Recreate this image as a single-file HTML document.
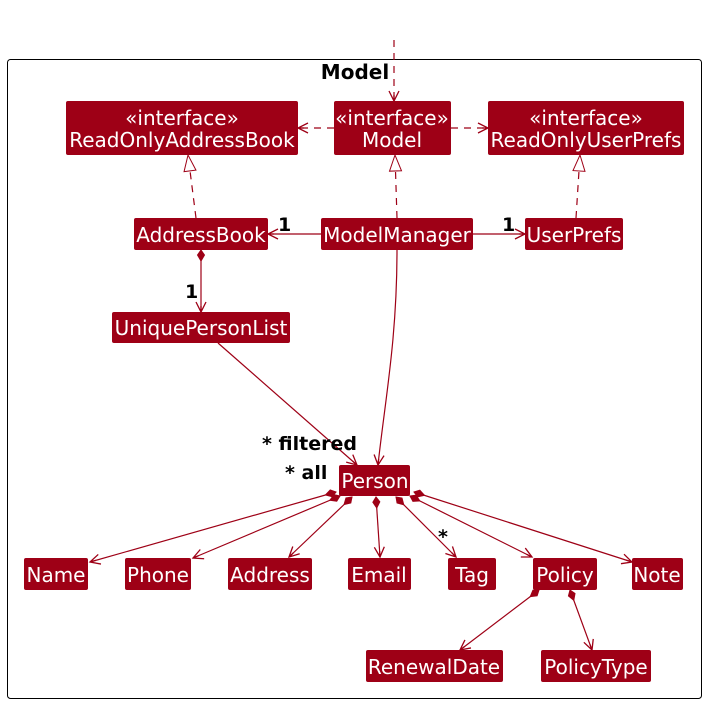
<!DOCTYPE html>
<html><head><meta charset="utf-8"><style>
html,body{margin:0;padding:0;background:#fff;}
svg{display:block;font-family:"DejaVu Sans","Liberation Sans",sans-serif;}
.b{fill:#9E0016;}
.t{fill:#fff;font-size:20px;text-anchor:middle;}
.l{stroke:#9E0016;stroke-width:1.2;fill:none;}
.d{stroke-dasharray:7,6;}
.lab{font-size:19px;font-weight:bold;fill:#000;}
</style></head><body>
<svg width="706" height="704" viewBox="0 0 706 704">
<defs>
<marker id="a" markerWidth="14" markerHeight="14" refX="11" refY="6" orient="auto" markerUnits="userSpaceOnUse">
<path d="M1,1 L11,6 L1,11 M11,6 L5,6" stroke="#9E0016" stroke-width="1.3" fill="none"/>
</marker>
<marker id="tri" markerWidth="20" markerHeight="20" refX="17" refY="7" orient="auto" markerUnits="userSpaceOnUse">
<path d="M1,1 L17,7 L1,13 Z" stroke="#9E0016" stroke-width="1" fill="#fff"/>
</marker>
<marker id="dia" markerWidth="16" markerHeight="10" refX="1" refY="5" orient="auto" markerUnits="userSpaceOnUse">
<path d="M1,5 L6,1.5 L12,5 L6,8.5 Z" fill="#9E0016" stroke="#9E0016"/>
</marker>
</defs>
<rect x="7.5" y="59.5" width="694" height="639" rx="3" fill="none" stroke="#000" stroke-width="1"/>
<text x="355" y="79" font-size="20" font-weight="bold" text-anchor="middle">Model</text>

<line class="l d" x1="394" y1="40" x2="394" y2="101" marker-end="url(#a)"/>
<line class="l d" x1="334" y1="128" x2="298" y2="128" marker-end="url(#a)"/>
<line class="l d" x1="451" y1="128" x2="488" y2="128" marker-end="url(#a)"/>
<line class="l d" x1="196" y1="218" x2="188" y2="155" marker-end="url(#tri)"/>
<line class="l d" x1="397" y1="218" x2="395" y2="155" marker-end="url(#tri)"/>
<line class="l d" x1="576" y1="218" x2="580" y2="155" marker-end="url(#tri)"/>
<line class="l" x1="321" y1="234" x2="268" y2="234" marker-end="url(#a)"/>
<line class="l" x1="473" y1="234" x2="525" y2="234" marker-end="url(#a)"/>
<line class="l" x1="201" y1="250" x2="201" y2="312" marker-start="url(#dia)" marker-end="url(#a)"/>
<line class="l" x1="218" y1="343" x2="357" y2="465" marker-end="url(#a)"/>
<path class="l" d="M397,250 C397,340 385,400 378,465" marker-end="url(#a)"/>
<line class="l" x1="336" y1="492" x2="90" y2="562" marker-start="url(#dia)" marker-end="url(#a)"/>
<line class="l" x1="340" y1="496" x2="193" y2="558" marker-start="url(#dia)" marker-end="url(#a)"/>
<line class="l" x1="352" y1="497" x2="289" y2="557" marker-start="url(#dia)" marker-end="url(#a)"/>
<line class="l" x1="376" y1="497" x2="380" y2="557" marker-start="url(#dia)" marker-end="url(#a)"/>
<line class="l" x1="396" y1="497" x2="456" y2="557" marker-start="url(#dia)" marker-end="url(#a)"/>
<line class="l" x1="410" y1="496" x2="532" y2="557" marker-start="url(#dia)" marker-end="url(#a)"/>
<line class="l" x1="414" y1="492" x2="632" y2="562" marker-start="url(#dia)" marker-end="url(#a)"/>
<line class="l" x1="539" y1="590" x2="460" y2="650" marker-start="url(#dia)" marker-end="url(#a)"/>
<line class="l" x1="570" y1="590" x2="592" y2="650" marker-start="url(#dia)" marker-end="url(#a)"/>

<text class="lab" x="278" y="231">1</text>
<text class="lab" x="502" y="231">1</text>
<text class="lab" x="185" y="298">1</text>
<text class="lab" x="262" y="450">* filtered</text>
<text class="lab" x="285" y="479">* all</text>
<text x="438" y="543" font-size="19" font-weight="bold">*</text>

<rect class="b" x="66" y="101" width="232" height="54" rx="2"/>
<text class="t" x="182" y="125">«interface»</text><text class="t" x="182" y="147">ReadOnlyAddressBook</text>
<rect class="b" x="334" y="101" width="117" height="54" rx="2"/>
<text class="t" x="392" y="125">«interface»</text><text class="t" x="392" y="147">Model</text>
<rect class="b" x="488" y="101" width="196" height="54" rx="2"/>
<text class="t" x="586" y="125">«interface»</text><text class="t" x="586" y="147">ReadOnlyUserPrefs</text>

<rect class="b" x="134" y="218" width="134" height="32" rx="2"/><text class="t" x="201" y="242">AddressBook</text>
<rect class="b" x="321" y="218" width="152" height="32" rx="2"/><text class="t" x="397" y="242">ModelManager</text>
<rect class="b" x="525" y="218" width="98" height="32" rx="2"/><text class="t" x="574" y="242">UserPrefs</text>
<rect class="b" x="112" y="312" width="178" height="31" rx="2"/><text class="t" x="201" y="335">UniquePersonList</text>
<rect class="b" x="339" y="465" width="71" height="31" rx="2"/><text class="t" x="375" y="488">Person</text>

<rect class="b" x="24" y="558" width="64" height="32" rx="2"/><text class="t" x="56" y="582">Name</text>
<rect class="b" x="125" y="558" width="66" height="32" rx="2"/><text class="t" x="158" y="582">Phone</text>
<rect class="b" x="228" y="558" width="84" height="32" rx="2"/><text class="t" x="270" y="582">Address</text>
<rect class="b" x="348" y="558" width="63" height="32" rx="2"/><text class="t" x="379" y="582">Email</text>
<rect class="b" x="448" y="558" width="48" height="32" rx="2"/><text class="t" x="472" y="582">Tag</text>
<rect class="b" x="533" y="558" width="64" height="32" rx="2"/><text class="t" x="565" y="582">Policy</text>
<rect class="b" x="632" y="558" width="51" height="32" rx="2"/><text class="t" x="657" y="582">Note</text>
<rect class="b" x="366" y="650" width="137" height="32" rx="2"/><text class="t" x="434" y="674">RenewalDate</text>
<rect class="b" x="541" y="650" width="110" height="32" rx="2"/><text class="t" x="596" y="674">PolicyType</text>
</svg>
</body></html>
